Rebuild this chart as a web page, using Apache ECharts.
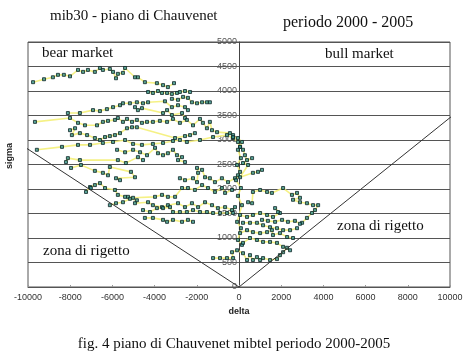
<!DOCTYPE html>
<html>
<head>
<meta charset="utf-8">
<script src="https://cdn.jsdelivr.net/npm/echarts@6/dist/echarts.min.js"></script>
<style>html,body{margin:0;padding:0;background:#fff}#c{width:468px;height:363px}</style>
</head>
<body>
<div id="c"></div>
<script>
// ---- data (delta, sigma) ----
const xTicks = [-10000,-8000,-6000,-4000,-2000,0,2000,4000,6000,8000,10000];
const yTicks = [0,500,1000,1500,2000,2500,3000,3500,4000,4500,5000];
const rejectLeft = [[-10950,3080],[0,0]];
const rejectRight = [[0,0],[10330,3570]];

const s1 = [[-9760,4180],[-9240,4240],[-8820,4280],[-8580,4330],[-8300,4330],[-8010,4300],[-7630,4430],[-7390,4390],[-7160,4430],[-6830,4390],[-6590,4470],[-6450,4430],[-6120,4450],[-5970,4390],[-5830,4260],[-5740,4350],[-5500,4370],[-5400,4470],[-4930,4280],[-4790,4280],[-4460,4180],[-3890,4160],[-3600,4120],[-3370,4080],[-3080,4160]];
const s2 = [[-4310,3980],[-4080,3960],[-3840,4000],[-3650,3960],[-3410,3960],[-3180,3940],[-2940,3960],[-2800,3980],[-2560,4000],[-2320,3980]];
const s3 = [[-3180,3840],[-2890,3820],[-2650,3880],[-2420,3860],[-2230,3770],[-1990,3750],[-1750,3770],[-1520,3770],[-1380,3770]];
const s4 = [[-8110,3550],[-7540,3550],[-6920,3610],[-6590,3590],[-6260,3630],[-5970,3670],[-5640,3710],[-5500,3750],[-5170,3750],[-4840,3770],[-4550,3750],[-4310,3770],[-3510,3790],[-3180,3670],[-2890,3710],[-2560,3670],[-2420,3610]];
const s5 = [[-4930,3670],[-4790,3610],[-4600,3650],[-3600,3550],[-3410,3610],[-3180,3510],[-2700,3550],[-2560,3450]];
const s6 = [[-9670,3370],[-8010,3450],[-7630,3350],[-7300,3300],[-6730,3300],[-6450,3370],[-6210,3390],[-5880,3410],[-5740,3450],[-5500,3370],[-5310,3430],[-5070,3370],[-4840,3410],[-4600,3350],[-4360,3370],[-4080,3370],[-3750,3390],[-3410,3370],[-3130,3430],[-2800,3350],[-2470,3410],[-2180,3300],[-1850,3430],[-1710,3350],[-1520,3240],[-1380,3370],[-1280,3200],[-1040,3160],[-430,3140],[-280,3100]];
const s7 = [[-8010,3200],[-7770,3240],[-7920,3100],[-7540,3140],[-7200,3100],[-6830,3040],[-6590,3000],[-6350,3060],[-6120,3080],[-5880,3100],[-5640,3140],[-5310,3240],[-5070,3260],[-4840,3260],[-3030,3040],[-2560,3080],[-2320,3100],[-2090,3140]];
const s8 = [[-9580,2800],[-8390,2860],[-7630,2900],[-7060,2900],[-6450,2940],[-5970,2960],[-5400,3000],[-5020,2920],[-4600,2900],[-4080,2920],[-3600,2940],[-3130,2980],[-2800,3000],[-2470,2960],[-1850,3000],[-1230,3060],[-570,3100],[-280,3040],[-50,2960],[50,2860]];
const s9 = [[-5780,2800],[-5400,2750],[-5020,2800],[-4690,2750],[-4360,2690],[-3980,2840],[-3840,2730],[-3600,2690],[-3370,2730],[-3130,2800],[-2940,2690],[-2700,2650],[-2890,2590],[-2560,2550]];
const s10 = [[-8200,2550],[-8110,2630],[-7540,2590],[-5740,2590],[-5360,2530],[-4790,2650],[-4550,2590]];
const s11 = [[-7960,2430],[-7490,2490],[-6830,2370],[-6450,2330],[-6210,2280],[-6120,2450],[-5120,2350],[-4930,2240],[-5830,2220],[-5640,2180]];
const s12 = [[-2800,2220],[-2560,2180],[-2180,2220],[-1990,2140],[-1940,2330],[-1990,2430],[-1750,2390],[-1610,2240],[-1380,2220],[-1140,2140],[-810,2220],[-520,2140],[-190,2220],[-50,2280]];
const s13 = [[-7250,1940],[-7060,2040],[-7020,2020],[-6830,2080],[-6590,2120],[-6350,2020],[-5880,1980],[-5740,1880],[-5400,1840],[-5260,1840],[-5020,1820],[-3980,1840],[-3650,1880],[-3370,1840],[-3030,1840],[-2700,2020],[-2420,2020],[-2090,1980],[-1750,2080],[-1470,2020],[-1140,1940],[-810,2020],[-660,1920],[-330,1980]];
const s14 = [[-6120,1670],[-5830,1710],[-5500,1730],[-5170,1800],[-4840,1770],[-4930,1710],[-4310,1730],[-4080,1670],[-3650,1630],[-3370,1670],[-2890,1710],[-2560,1630],[-2230,1710],[-1940,1630],[-1610,1730],[-1280,1670],[-1000,1610],[-660,1630],[-330,1570],[-190,1630]];
const s15 = [[-4550,1570],[-4220,1530],[-3890,1610],[-3600,1610],[-3270,1630],[-3130,1530],[-2800,1530],[-2470,1530],[-2180,1570],[-1850,1530],[-1520,1530],[-1230,1510],[-900,1510],[-570,1510],[-280,1510]];
const s16 = [[-4460,1410],[-4080,1410],[-3600,1370],[-3410,1330],[-3130,1370],[-2700,1330],[-2420,1370],[-2180,1330]];
const s17 = [[-280,3060],[-50,3040],[140,2960],[50,2860],[190,2800],[280,2690],[380,2590],[620,2630],[190,2530],[430,2490],[50,2240],[660,2330],[900,2350],[1090,2390]];
const s18 = [[-50,2800],[90,2630],[-90,2490],[50,2350],[-140,2180],[90,2020],[-50,1860],[140,1670],[-90,1330],[90,1200],[-50,960],[140,860]];
const s19 = [[430,1730],[620,1710],[660,1940],[1000,1980],[1330,1940],[1560,1920],[2090,2020],[2510,1880],[2750,1920],[2890,1820],[2560,1780],[2890,1730],[3220,1710],[3510,1670],[3750,1670],[3600,1570],[3460,1510],[3220,1410],[2990,1310]];
const s20 = [[50,1470],[380,1430],[660,1470],[1000,1510],[1330,1470],[1610,1430],[1940,1510],[1850,1530],[1710,1610]];
const s21 = [[190,1310],[520,1310],[850,1310],[1140,1260],[1470,1220],[1800,1200],[2090,1160],[2420,1160],[2750,1200]];
const s22 = [[1090,1370],[1370,1350],[1710,1330],[2040,1370],[2320,1330],[2650,1350],[2890,1290]];
const s23 = [[50,1100],[380,1160],[660,1120],[1000,1100],[1330,1120],[1560,1160],[1610,1060],[1940,1100],[2280,1020],[2560,1000]];
const s24 = [[190,900],[520,1000],[850,960],[1140,920],[1470,920],[1800,900],[2090,820],[2420,750]];
const s25 = [[-1230,590],[-900,590],[-570,590],[-280,590],[-330,710],[-90,750],[190,690],[380,550],[520,650],[660,550],[850,610],[1000,550],[1140,590],[1470,550],[1800,570],[1940,650],[2090,710],[2280,800]];

const strands = [s1,s2,s3,s4,s5,s6,s7,s8,s9,s10,s11,s12,s13,s14,s15,s16,s17,s18,s19,s20,s21,s22,s23,s24,s25];

// ---- chart ----
const chart = echarts.init(document.getElementById('c'), null, {renderer:'canvas'});
const lineSeries = strands.map(s => ({
  type:'line', data:s, showSymbol:false, symbol:'none', z:2, silent:true,
  lineStyle:{color:'#f4ef78', width:1.6, opacity:0.9}
}));
const allPts = [].concat(...strands);
const plain = v => String(v);

chart.setOption({
  animation:false,
  backgroundColor:'#fff',
  grid:{left:28, right:18, top:42, bottom:76, show:true, borderColor:'#555', borderWidth:1, backgroundColor:'transparent'},
  xAxis:{type:'value', min:xTicks[0], max:xTicks[xTicks.length-1], interval:2000,
    axisLine:{show:true, onZero:false, lineStyle:{color:'#555'}},
    axisTick:{show:true, inside:true, length:2, lineStyle:{color:'#999'}},
    splitLine:{show:false},
    axisLabel:{fontFamily:'Liberation Sans', fontSize:9, color:'#333', margin:6, formatter:plain},
    name:'delta', nameLocation:'middle', nameGap:20,
    nameTextStyle:{fontFamily:'Liberation Sans', fontSize:9, fontWeight:'bold', color:'#222'}
  },
  yAxis:{type:'value', min:yTicks[0], max:yTicks[yTicks.length-1], interval:500,
    offset:-211,
    axisLine:{show:true, onZero:false, lineStyle:{color:'#444'}},
    axisTick:{show:false},
    splitLine:{show:true, lineStyle:{color:'#555', width:1}},
    axisLabel:{fontFamily:'Liberation Sans', fontSize:9, color:'#555', margin:2, formatter:plain}
  },
  graphic:[
    {type:'text', left:50, top:9, style:{text:'mib30 - piano di Chauvenet', font:'15px "Liberation Serif"', fill:'#111'}},
    {type:'text', left:283, top:15, style:{text:'periodo 2000 - 2005', font:'16px "Liberation Serif"', fill:'#111'}},
    {type:'text', left:42, top:46, style:{text:'bear market', font:'15px "Liberation Serif"', fill:'#111'}},
    {type:'text', left:325, top:47, style:{text:'bull market', font:'15px "Liberation Serif"', fill:'#111'}},
    {type:'text', left:43, top:244, style:{text:'zona di rigetto', font:'15px "Liberation Serif"', fill:'#111'}},
    {type:'text', left:337, top:219, style:{text:'zona di rigetto', font:'15px "Liberation Serif"', fill:'#111'}},
    {type:'text', left:'center', top:337, style:{text:'fig. 4 piano di Chauvenet mibtel periodo 2000-2005', font:'15px "Liberation Serif"', fill:'#111'}},
    {type:'text', x:5, y:169, rotation:Math.PI/2, style:{text:'sigma', font:'bold 9px "Liberation Sans"', fill:'#222'}}
  ],
  series:[
    {type:'line', data:rejectLeft, symbol:'none', clip:false, z:4, silent:true, lineStyle:{color:'#333', width:1}},
    {type:'line', data:rejectRight, symbol:'none', clip:false, z:4, silent:true, lineStyle:{color:'#333', width:1}},
    ...lineSeries,
    {type:'scatter', data:allPts, symbol:'rect', symbolSize:3, z:3, silent:true,
      itemStyle:{color:'#33918c', borderColor:'#0e2524', borderWidth:1}}
  ]
});
</script>
</body>
</html>
